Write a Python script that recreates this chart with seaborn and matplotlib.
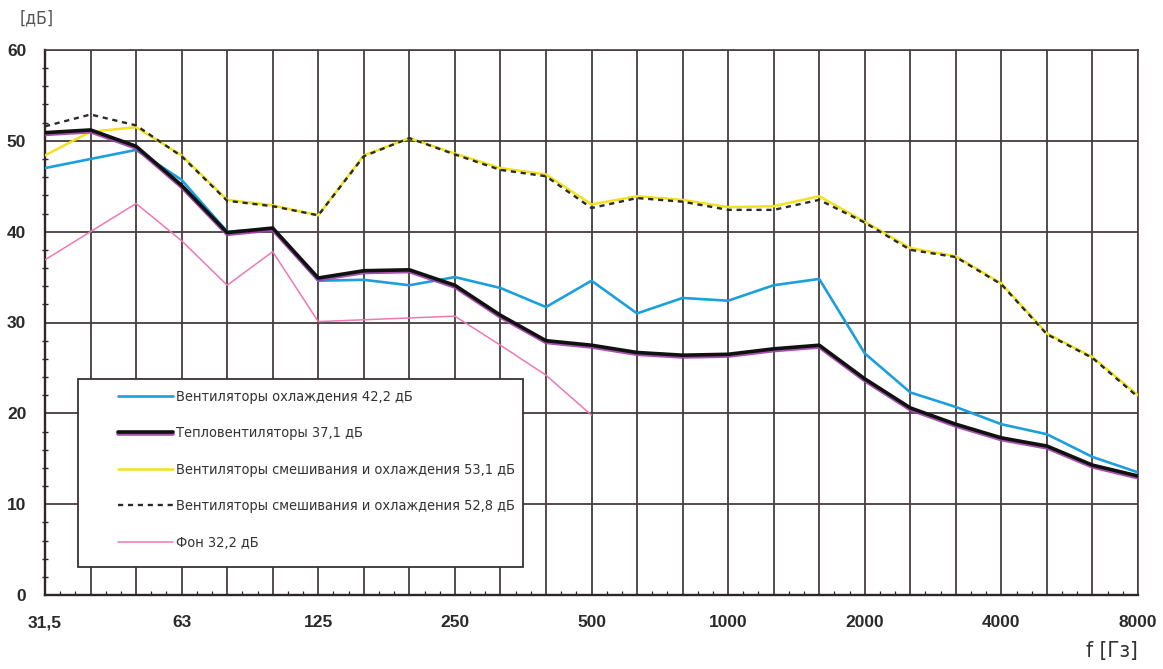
import numpy as np
import pandas as pd
import matplotlib
matplotlib.use("Agg")
import matplotlib.pyplot as plt
import matplotlib.patheffects as pe
from matplotlib import font_manager as fm
from matplotlib.patches import Rectangle
from matplotlib.ticker import MultipleLocator
import seaborn as sns

# 1/3-octave bands, 31.5 Hz .. 8 kHz
freq_labels = ["31,5", "40", "50", "63", "80", "100", "125", "160", "200", "250",
               "315", "400", "500", "630", "800", "1000", "1250", "1600", "2000",
               "2500", "3150", "4000", "5000", "6300", "8000"]
octave_labels = ["31,5", "63", "125", "250", "500", "1000", "2000", "4000", "8000"]

# levels, dB
cooling = [47.0, 48.0, 49.0, 45.7, 40.0, 40.3, 34.6, 34.7, 34.1, 35.0, 33.8, 31.7, 34.6,
           31.0, 32.7, 32.4, 34.1, 34.8, 26.6, 22.3, 20.7, 18.8, 17.7, 15.2, 13.5]
heaters = [50.9, 51.2, 49.4, 45.1, 39.9, 40.4, 34.9, 35.7, 35.8, 34.1, 30.8, 28.0, 27.5,
           26.7, 26.4, 26.5, 27.1, 27.5, 23.8, 20.6, 18.8, 17.3, 16.4, 14.3, 13.1]
mixing_531 = [48.4, 51.0, 51.5, 48.4, 43.5, 42.9, 41.8, 48.4, 50.3, 48.6, 47.0, 46.3, 43.0,
              43.9, 43.5, 42.7, 42.8, 43.9, 41.1, 38.2, 37.3, 34.3, 28.8, 26.2, 22.0]
mixing_528 = [51.6, 52.9, 51.7, 48.3, 43.4, 42.8, 41.8, 48.3, 50.3, 48.5, 46.8, 46.1, 42.6,
              43.7, 43.3, 42.4, 42.4, 43.5, 41.0, 38.0, 37.2, 34.2, 28.7, 26.1, 21.8]
background = [36.9, 40.0, 43.1, 39.0, 34.1, 37.8, 30.1, 30.3, 30.5, 30.7, 27.5, 24.2, 19.8]

series_labels = ["Вентиляторы охлаждения 42,2 дБ",
                 "Тепловентиляторы 37,1 дБ",
                 "Вентиляторы смешивания и охлаждения 53,1 дБ",
                 "Вентиляторы смешивания и охлаждения 52,8 дБ",
                 "Фон 32,2 дБ"]

pos = np.arange(len(freq_labels))
df = pd.DataFrame({"pos": pos, "cooling": cooling, "heaters": heaters,
                   "mix1": mixing_531, "mix2": mixing_528})
df_bg = pd.DataFrame({"pos": pos[:len(background)], "bg": background})

sns.set_style("white")
plt.rcParams["font.family"] = ["Liberation Sans", "DejaVu Sans"]


def narrow_fname():
    # prefer Liberation Sans Narrow, then DejaVu Sans Condensed (sorted -> same pick every run)
    found = {}
    for fname in sorted(f.fname for f in fm.fontManager.ttflist):
        nm = fname.lower().replace("-", "").replace("_", "")
        if any(k in nm for k in ["bold", "oblique", "italic", "mono", "serif"]):
            continue
        if "liberation" in nm and "narrow" in nm:
            found.setdefault("lib", fname)
        elif "dejavu" in nm and "condensed" in nm:
            found.setdefault("dv", fname)
    return found.get("lib") or found.get("dv")


nf = narrow_fname()


def nprop(size):
    if nf:
        return fm.FontProperties(fname=nf, size=size)
    return fm.FontProperties(family=["Liberation Sans", "DejaVu Sans"], size=size)


grid_c = "#463e3e"
fig = plt.figure(figsize=(11.63, 6.69), dpi=100)
ax = fig.add_axes([45 / 1163, 1 - 595 / 669, 1093 / 1163, 545 / 669])

# lines
sns.lineplot(data=df_bg, x="pos", y="bg", ax=ax, color="#ee78b4", lw=1.1,
             label=series_labels[4], zorder=3)
sns.lineplot(data=df, x="pos", y="mix1", ax=ax, color="#f2e21c", lw=1.8,
             label=series_labels[2], zorder=4)
sns.lineplot(data=df, x="pos", y="mix2", ax=ax, color="#2a2a2a", lw=1.7,
             label=series_labels[3], zorder=5)
ax.lines[-1].set_dashes((2.2, 2.0))
sns.lineplot(data=df, x="pos", y="cooling", ax=ax, color="#1c9fdc", lw=1.9,
             label=series_labels[0], zorder=6)
sns.lineplot(data=df, x="pos", y="heaters", ax=ax, color="#111111", lw=2.6,
             label=series_labels[1], zorder=7)
ax.lines[-1].set_path_effects([
    pe.SimpleLineShadow(offset=(0, -1.3), shadow_color="#a040a8", alpha=0.9, rho=1),
    pe.Normal()])

# axes / grid
ax.set_xlim(0, len(freq_labels) - 1)
ax.set_ylim(0, 60)
ax.set_xticks(pos)
ax.set_xticklabels([l if l in octave_labels else "" for l in freq_labels])
ax.set_yticks(np.arange(0, 61, 10))
ax.yaxis.set_minor_locator(MultipleLocator(2))
ax.xaxis.set_minor_locator(MultipleLocator(1 / 3))
ax.grid(True, which="major", color=grid_c, lw=1.3)
ax.set_axisbelow(True)
for s in ["top", "right"]:
    ax.spines[s].set_color(grid_c)
    ax.spines[s].set_linewidth(1.2)
for s in ["left", "bottom"]:
    ax.spines[s].set_color("#2e2626")
    ax.spines[s].set_linewidth(1.7)
ax.tick_params(axis="both", which="major", length=7, width=1.4, color="#2e2626",
               direction="inout", labelsize=12.5, labelcolor="#2a2a2a")
ax.tick_params(axis="y", which="minor", length=5, width=1.0, color="#2e2626",
               direction="inout", left=True)
ax.tick_params(axis="x", which="minor", length=3, width=0.9, color="#2e2626",
               direction="in", bottom=True)
ax.tick_params(axis="y", which="major", pad=10)
ax.tick_params(axis="x", which="major", pad=11)
for t in ax.get_xticklabels() + ax.get_yticklabels():
    t.set_fontweight("bold")
ax.set_xlabel("")
ax.set_ylabel("")

# size the legend font so the longest label is ~340 px wide, as in the picture
renderer = fig.canvas.get_renderer()
probe = fig.text(0, 0, series_labels[2], fontproperties=nprop(10))
w10 = probe.get_window_extent(renderer).width
probe.remove()
leg_size = min(13.5, 10 * 340 / w10)
fs_px = leg_size * 100 / 72

# units
fig.text(20 / 1163, 1 - 18 / 669, "[дБ]", color="#555555", va="center", ha="left",
         fontproperties=nprop(12.5))
fig.text(1138 / 1163, 1 - 651 / 669, "f [Гз]", color="#333333", va="center", ha="right",
         fontproperties=nprop(16))

# legend
frame = Rectangle((33 / 1093, 28 / 545), 445 / 1093, 188 / 545, transform=ax.transAxes,
                  facecolor="white", edgecolor="#3a3232", lw=1.3, zorder=8)
ax.add_patch(frame)
handles, labels = ax.get_legend_handles_labels()
order = [series_labels.index(l) for l in labels]
hl = sorted(zip(order, handles, labels))
pad_px = 0.4 * fs_px
row_h = 0.98 * fs_px
leg = ax.legend([h for _, h, _ in hl], [l for _, _, l in hl],
                loc="upper left",
                bbox_to_anchor=((118 - 45 - pad_px) / 1093,
                                1 - (397 - row_h / 2 - pad_px - 50) / 545),
                frameon=False, handlelength=55 / fs_px,
                handletextpad=3 / fs_px, labelspacing=(36.7 - row_h) / fs_px,
                borderaxespad=0, prop=nprop(leg_size))
leg.set_zorder(9)
for t in leg.get_texts():
    t.set_color("#333333")

fig.savefig("out.png", dpi=100, facecolor="white")
